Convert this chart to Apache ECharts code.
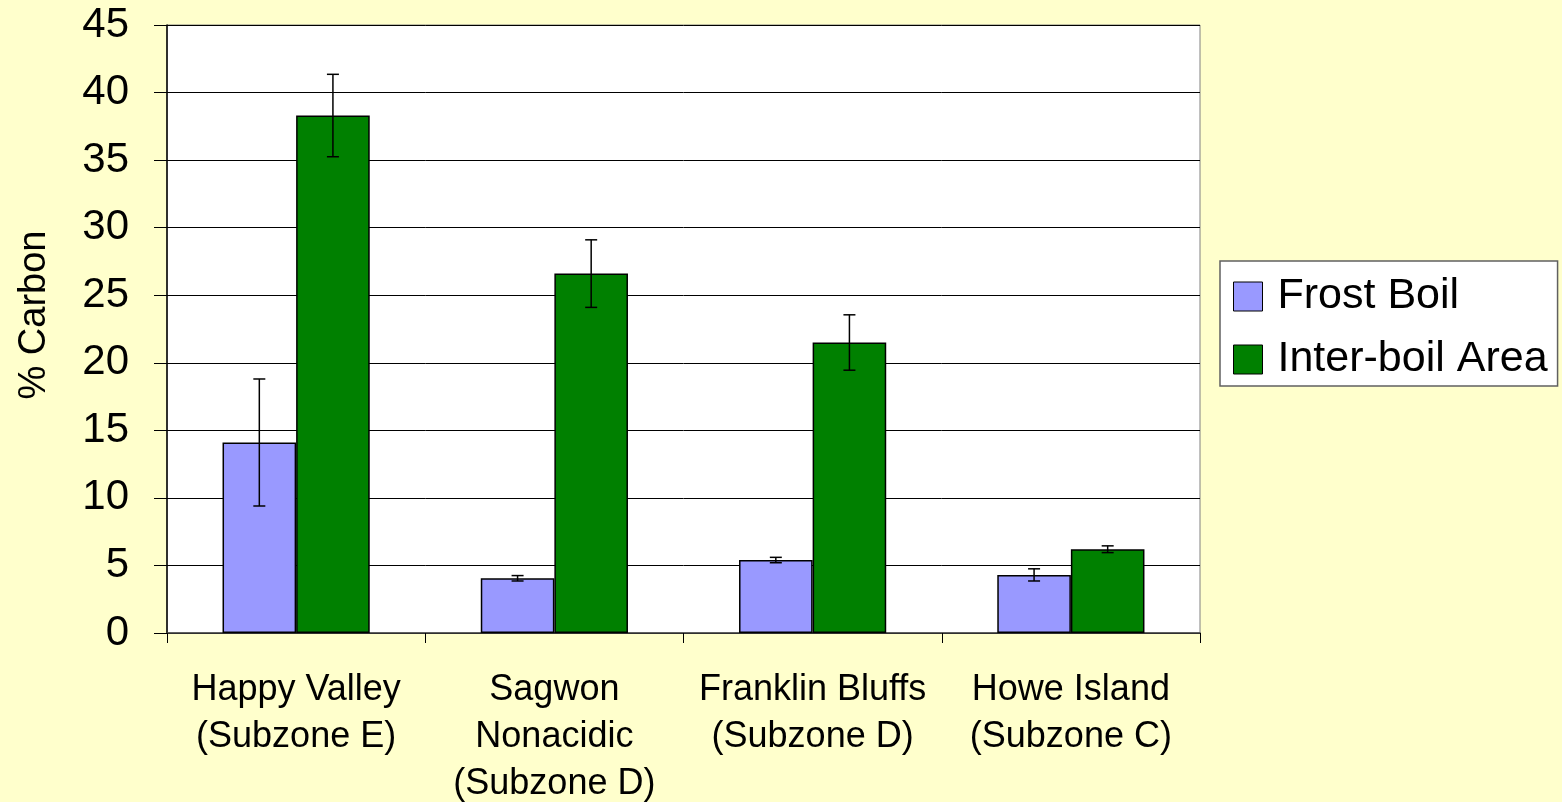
<!DOCTYPE html>
<html>
<head>
<meta charset="utf-8">
<script src="https://cdn.jsdelivr.net/npm/echarts@6/dist/echarts.min.js"></script>
<style>
html, body { margin: 0; padding: 0; background: #ffffcc; }
#chart { width: 1562px; height: 802px; }
</style>
</head>
<body>
<div id="chart"></div>
<script>
const categories = ['Happy Valley\n(Subzone E)', 'Sagwon\nNonacidic\n(Subzone D)', 'Franklin Bluffs\n(Subzone D)', 'Howe Island\n(Subzone C)'];
const frostBoil = [14.1, 4.05, 5.4, 4.3];
const frostBoilErr = [4.7, 0.2, 0.2, 0.45];
const interBoil = [38.3, 26.6, 21.5, 6.2];
const interBoilErr = [3.05, 2.5, 2.05, 0.25];

const font = 'Liberation Sans, Arial, sans-serif';
const gapRatio = 0.43;

const chartDom = document.getElementById('chart');
const chart = echarts.init(chartDom);

// error bars drawn on top of each bar of a series (side -1 = left bar, 1 = right bar)
const errorSeries = (vals, errs, side) => ({
    type: 'custom',
    z: 10,
    silent: true,
    data: vals.map((v, i) => [i, v - errs[i], v + errs[i]]),
    renderItem: (params, api) => {
        const band = api.size([1, 0])[0];
        const offset = side * band * (1 - gapRatio) / 4;
        const lo = api.coord([api.value(0), api.value(1)]);
        const hi = api.coord([api.value(0), api.value(2)]);
        const x = lo[0] + offset;
        const cap = 6;
        const style = { stroke: '#000', lineWidth: 1.5 };
        return {
            type: 'group',
            children: [
                { type: 'line', shape: { x1: x, y1: lo[1], x2: x, y2: hi[1] }, style },
                { type: 'line', shape: { x1: x - cap, y1: lo[1], x2: x + cap, y2: lo[1] }, style },
                { type: 'line', shape: { x1: x - cap, y1: hi[1], x2: x + cap, y2: hi[1] }, style }
            ]
        };
    }
});

const options = {
    backgroundColor: '#ffffcc',
    animation: false,
    textStyle: { fontFamily: font },
    grid: {
        left: 167,
        right: 362,
        top: 25,
        bottom: 169,
        outerBoundsMode: 'none',
        containLabel: false,
        show: true,
        backgroundColor: '#ffffff',
        borderColor: '#808080',
        borderWidth: 1
    },
    legend: {
        orient: 'vertical',
        left: 1220,
        top: 261,
        width: 334,
        padding: [14, 10, 5, 13],
        itemGap: 20,
        itemWidth: 29,
        itemHeight: 29,
        icon: 'rect',
        itemStyle: { borderColor: '#000', borderWidth: 1 },
        backgroundColor: '#ffffff',
        borderColor: '#606060',
        borderWidth: 1.5,
        borderRadius: 0,
        textStyle: { fontSize: 43, lineHeight: 43, color: '#000', fontFamily: font, padding: [0, 0, 0, 10] },
        data: ['Frost Boil', 'Inter-boil Area']
    },
    xAxis: {
        type: 'category',
        data: categories,
        axisLine: { lineStyle: { color: '#404040', width: 1.5 } },
        axisTick: { show: true, length: 10, lineStyle: { color: '#000' } },
        axisLabel: {
            interval: 0,
            fontSize: 36,
            lineHeight: 47,
            color: '#000',
            margin: 34,
            fontFamily: font
        }
    },
    yAxis: {
        type: 'value',
        min: 0,
        max: 45,
        interval: 5,
        name: '% Carbon',
        nameLocation: 'middle',
        nameGap: 113,
        nameTextStyle: { fontSize: 38, color: '#000', fontFamily: font, padding: [0, 0, 0, 28] },
        axisLine: { show: true, lineStyle: { color: '#000', width: 1.5 } },
        axisTick: { show: true, length: 13, lineStyle: { color: '#000' } },
        axisLabel: { fontSize: 42, color: '#000', margin: 38, fontFamily: font },
        splitLine: { lineStyle: { color: '#000', width: 1 } }
    },
    series: [
        {
            name: 'Frost Boil',
            type: 'bar',
            barGap: 0,
            barCategoryGap: (gapRatio * 100) + '%',
            itemStyle: { color: '#9999ff', borderColor: '#000', borderWidth: 1.5 },
            data: frostBoil
        },
        {
            name: 'Inter-boil Area',
            type: 'bar',
            barGap: 0,
            barCategoryGap: (gapRatio * 100) + '%',
            itemStyle: { color: '#008000', borderColor: '#000', borderWidth: 1.5 },
            data: interBoil
        },
        errorSeries(frostBoil, frostBoilErr, -1),
        errorSeries(interBoil, interBoilErr, 1)
    ]
};

chart.setOption(options);
</script>
</body>
</html>
